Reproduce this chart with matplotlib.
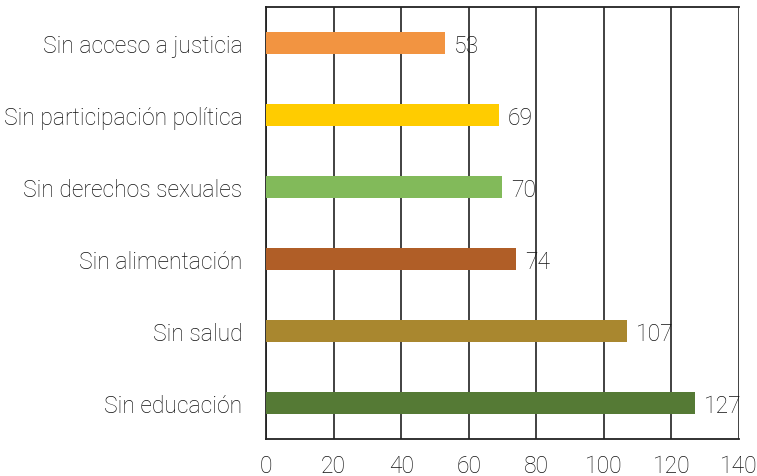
import matplotlib.pyplot as plt

categories = ["Sin educación", "Sin salud", "Sin alimentación",
              "Sin derechos sexuales", "Sin participación política",
              "Sin acceso a justicia"]
values = [127, 107, 74, 70, 69, 53]
colors = ["#557A35", "#A9872F", "#B05E27", "#82BA5A", "#FFCC00", "#F29441"]
xticks = [0, 20, 40, 60, 80, 100, 120, 140]

plt.rcParams['font.family'] = ['Roboto', 'DejaVu Sans']
plt.rcParams['font.weight'] = 'light'

fig = plt.figure(figsize=(7.57, 4.77), dpi=100)
ax = fig.add_axes([0.3514, 0.0776, 0.6248, 0.9056])

pos = range(len(categories))
ax.barh(pos, values, height=0.31, color=colors, zorder=3)
for y, v in zip(pos, values):
    ax.text(v + 2.6, y - 0.03, str(v), va="center", ha="left", fontsize=16.5,
            color="#111111", zorder=4)

ax.set_xlim(0, 140)
ax.set_ylim(-0.5, len(categories) - 0.5)
ax.set_xticks(xticks)
ax.set_yticks(list(pos))
ax.set_yticklabels(categories)
ax.tick_params(axis="y", length=0, pad=17, labelsize=16.5, labelcolor="#111111")
ax.tick_params(axis="x", length=0, pad=11, labelsize=16.5, labelcolor="#111111")
ax.xaxis.grid(True, color="#333333", linewidth=1.3, zorder=0)
for s in ax.spines.values():
    s.set_color("#222222")
    s.set_linewidth(1.3)
ax.spines["right"].set_visible(False)

fig.savefig("out.png", dpi=100)
